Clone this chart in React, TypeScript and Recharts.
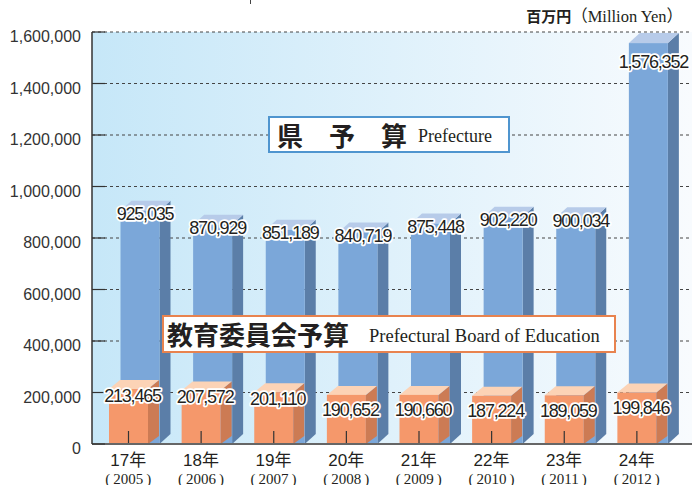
import { Bar, BarChart, CartesianGrid, LabelList, XAxis, YAxis } from 'recharts';

const eraYears = ['17年', '18年', '19年', '20年', '21年', '22年', '23年', '24年'];
const adYears = ['2005', '2006', '2007', '2008', '2009', '2010', '2011', '2012'];
const prefectureBudget = [925035, 870929, 851189, 840719, 875448, 902220, 900034, 1576352];
const educationBudget = [213465, 207572, 201110, 190652, 190660, 187224, 189059, 199846];
const yTicks = [0, 200000, 400000, 600000, 800000, 1000000, 1200000, 1400000, 1600000];

const rows = eraYears.map((era, i) => ({
  era,
  ad: adYears[i],
  pref: prefectureBudget[i],
  edu: educationBudget[i],
}));

const SANS = '"Liberation Sans", Arial, "Noto Sans CJK JP", sans-serif';
const SERIF = '"Liberation Serif", "Times New Roman", "Noto Sans CJK JP", serif';
const INK = '#231f20';
const DEPTH = 11;
const BACK_SHIFT = 11.5; // prefecture boxes sit behind and to the right

function PrefBox(props: any) {
  const { x, y, width, height } = props;
  const fx = x + BACK_SHIFT;
  const bottom = y + height;
  const ft = y + 5;
  const bt = y - 5;
  return (
    <g>
      <polygon
        points={`${fx + width},${ft} ${fx + width + DEPTH},${bt} ${fx + width + DEPTH},${bottom - 10} ${fx + width},${bottom}`}
        fill="#5b7ea8"
      />
      <polygon
        points={`${fx},${ft} ${fx + DEPTH},${bt} ${fx + width + DEPTH},${bt} ${fx + width},${ft}`}
        fill="#b7cbe9"
      />
      <rect x={fx} y={ft} width={width} height={bottom - ft} fill="#7ba7d9" />
    </g>
  );
}

function EduBox(props: any) {
  const { x, y, width, height } = props;
  const bottom = y + height;
  const ft = y;
  const bt = y - 9;
  const cx = x + width / 2;
  return (
    <g>
      <polygon
        points={`${x + width},${ft} ${x + width + DEPTH},${bt} ${x + width + DEPTH},${bottom - 8} ${x + width},${bottom}`}
        fill="#cc7b54"
      />
      <polygon
        points={`${x},${ft} ${x + DEPTH},${bt} ${x + width + DEPTH},${bt} ${x + width},${ft}`}
        fill="#fcd3b6"
      />
      <rect x={x} y={ft} width={width} height={bottom - ft} fill="#f5986b" />
      <line x1={cx} x2={cx} y1={bottom - 13} y2={bottom} stroke="#333" strokeWidth={1.2} />
    </g>
  );
}

const labelStyle = {
  fontFamily: SANS,
  fontSize: 18,
  letterSpacing: -1.2,
  fill: INK,
  stroke: '#fff',
  strokeWidth: 3.5,
  strokeLinejoin: 'round' as const,
  paintOrder: 'stroke',
};

function PrefLabel(props: any) {
  const { x, y, width, value } = props;
  const v = Number(value);
  const drop = v > 1400000 ? 15 : 0;
  return (
    <text x={x + BACK_SHIFT + width / 2 + 5} y={y + 14.5 + drop} textAnchor="middle" style={labelStyle}>
      {v.toLocaleString('en-US')}
    </text>
  );
}

function EduLabel(props: any) {
  const { x, y, width, value } = props;
  const v = Number(value);
  const off = v >= 200000 ? 6 : 15;
  return (
    <text x={x + width / 2 + 4} y={y + off + 6.5} textAnchor="middle" style={labelStyle}>
      {v.toLocaleString('en-US')}
    </text>
  );
}

function YTick(props: any) {
  const { x, y, payload } = props;
  return (
    <g>
      <line x1={x} x2={x + 13} y1={y} y2={y} stroke="#333" strokeWidth={1.2} />
      <text x={x - 11} y={y + 10} textAnchor="end" fontFamily={SANS} fontSize={16} fill="#333">
        {Number(payload.value).toLocaleString('en-US')}
      </text>
    </g>
  );
}

function XTick(props: any) {
  const { x, y, payload, index } = props;
  return (
    <g>
      <text x={x} y={y + 22} textAnchor="middle" fontFamily={SANS} fontSize={17} fill={INK}>
        {payload.value}
      </text>
      <text x={x} y={y + 39.5} textAnchor="middle" fontFamily={SERIF} fontSize={15} fill={INK}>
        <tspan>(</tspan>
        <tspan dx={3}>{adYears[index]}</tspan>
        <tspan dx={3}>)</tspan>
      </text>
    </g>
  );
}

export default function App() {
  return (
    <div style={{ position: 'absolute', left: 0, top: 0, width: 692, height: 485, background: '#fff', overflow: 'hidden' }}>
      <BarChart width={692} height={485} data={rows} margin={{ top: 32, right: 0, left: 0, bottom: 0 }}>
        <defs>
          <linearGradient id="plotBg" x1="0" y1="0" x2="1" y2="0">
            <stop offset="0%" stopColor="#c6e7f8" />
            <stop offset="100%" stopColor="#f8fbfe" />
          </linearGradient>
        </defs>
        <CartesianGrid
          vertical={false}
          fill="url(#plotBg)"
          stroke="#444"
          strokeDasharray="3 3"
          horizontalValues={yTicks}
        />
        <XAxis
          xAxisId="back"
          dataKey="era"
          orientation="top"
          height={0}
          hide
          padding={{ left: 0, right: 19 }}
        />
        <XAxis
          xAxisId="front"
          dataKey="era"
          height={41}
          padding={{ left: 0, right: 19 }}
          tickLine={false}
          tickSize={0}
          tickMargin={0}
          axisLine={{ stroke: '#666', strokeWidth: 2 }}
          tick={<XTick />}
          interval={0}
        />
        <YAxis
          width={92}
          domain={[0, 1600000]}
          ticks={yTicks}
          tickLine={false}
          tickSize={0}
          tickMargin={0}
          axisLine={{ stroke: '#333', strokeWidth: 1.5 }}
          tick={<YTick />}
          interval={0}
        />
        <Bar xAxisId="back" dataKey="pref" barSize={39} shape={<PrefBox />} isAnimationActive={false}>
          <LabelList dataKey="pref" content={<PrefLabel />} />
        </Bar>
        <Bar xAxisId="front" dataKey="edu" barSize={39} shape={<EduBox />} isAnimationActive={false}>
          <LabelList dataKey="edu" content={<EduLabel />} />
        </Bar>
      </BarChart>

      <div style={{ position: 'absolute', left: 250, top: 0, width: 1, height: 4, background: '#444' }} />

      <div
        style={{
          position: 'absolute',
          right: 9,
          top: 5,
          whiteSpace: 'nowrap',
          color: INK,
          lineHeight: '22px',
        }}
      >
        <span style={{ fontFamily: '"Noto Sans CJK JP", sans-serif', fontWeight: 700, fontSize: 15 }}>百万円</span>
        <span style={{ fontFamily: SERIF, fontSize: 16.5 }}>（Million Yen）</span>
      </div>

      <div
        style={{
          position: 'absolute',
          left: 268,
          top: 116,
          width: 242,
          height: 37,
          boxSizing: 'border-box',
          border: '2px solid #4f95cf',
          background: '#fff',
          display: 'flex',
          alignItems: 'center',
          paddingLeft: 7,
          whiteSpace: 'nowrap',
          color: INK,
        }}
      >
        <span style={{ fontFamily: '"Noto Sans CJK JP", sans-serif', fontWeight: 700, fontSize: 26, lineHeight: '30px' }}>
          県　予　算
        </span>
        <span style={{ fontFamily: SERIF, fontSize: 18, marginLeft: 11, marginTop: 4 }}>Prefecture</span>
      </div>

      <div
        style={{
          position: 'absolute',
          left: 162,
          top: 315,
          width: 454,
          height: 38,
          boxSizing: 'border-box',
          border: '2px solid #e8834f',
          background: '#fff',
          display: 'flex',
          alignItems: 'center',
          paddingLeft: 3,
          whiteSpace: 'nowrap',
          color: INK,
        }}
      >
        <span style={{ fontFamily: '"Noto Sans CJK JP", sans-serif', fontWeight: 700, fontSize: 26, lineHeight: '30px' }}>
          教育委員会予算
        </span>
        <span style={{ fontFamily: SERIF, fontSize: 18.5, marginLeft: 20, marginTop: 4 }}>
          Prefectural Board of Education
        </span>
      </div>
    </div>
  );
}
